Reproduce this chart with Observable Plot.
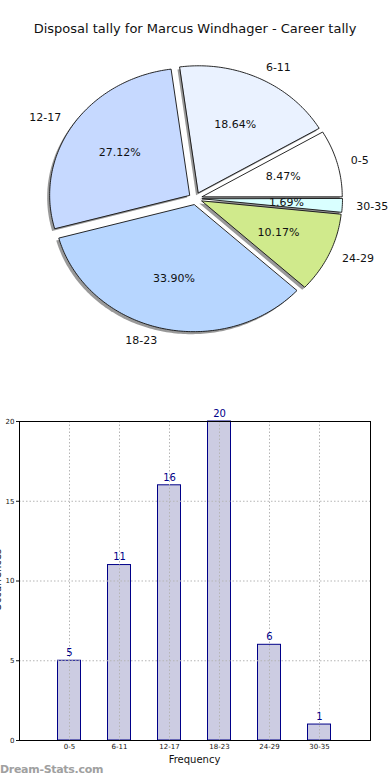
<!DOCTYPE html>
<html>
<head>
<meta charset="utf-8">
<script src="https://cdn.jsdelivr.net/npm/d3@7"></script>
<script src="https://cdn.jsdelivr.net/npm/@observablehq/plot@0.6"></script>
<style>
  html, body { margin: 0; padding: 0; background: #fff; }
  body { width: 390px; height: 780px; overflow: hidden; position: relative; font-family: "DejaVu Sans", sans-serif; }
  .abs { position: absolute; }
  #title { top: 21px; left: 0; width: 390px; text-align: center; font-size: 13px; color: #111; }
  #pie { top: 0; left: 0; }
  #bar { top: 400px; left: 0; }
  #xlabel { top: 754px; left: 0; width: 389px; text-align: center; font-size: 10px; line-height: 12px; color: #111; }
  #ylabel { top: 574px; left: -42px; width: 80px; text-align: center; font-size: 10px; line-height: 12px; color: #111; transform: rotate(-90deg); }
  #wm { top: 763px; left: 0px; font-size: 11px; font-weight: bold; color: #a0a0a0; letter-spacing: -0.3px; }
</style>
</head>
<body>
<div id="pie" class="abs"></div>
<div id="title" class="abs">Disposal tally for Marcus Windhager - Career tally</div>
<div id="bar" class="abs"></div>
<div id="xlabel" class="abs">Frequency</div>
<div id="ylabel" class="abs">Occurrences</div>
<div id="wm" class="abs">Dream-Stats.com</div>
<script>
// ---- data ----
const categories = ["0-5", "6-11", "12-17", "18-23", "24-29", "30-35"];
const counts = [5, 11, 16, 20, 6, 1];
const sliceColors = ["#ffffff", "#eaf2ff", "#c6d9ff", "#b7d6ff", "#d0ea8c", "#d9ffff"];
const yTicks = [0, 5, 10, 15, 20];

// ---- pie (matplotlib-like, counterclockwise from east, exploded) ----
const total = d3.sum(counts);
const explode = 0.05;
let cum = 0;
const slices = counts.map((c, i) => {
  const a0 = cum / total * 2 * Math.PI;
  cum += c;
  const a1 = cum / total * 2 * Math.PI;
  const mid = (a0 + a1) / 2;
  return {key: categories[i], color: sliceColors[i], a0, a1, mid,
          ox: explode * Math.cos(mid), oy: explode * Math.sin(mid),
          pct: (c / total * 100).toFixed(2) + "%"};
});
const piePts = [];
for (const s of slices) {
  piePts.push({key: s.key, color: s.color, x: s.ox, y: s.oy});
  const n = Math.max(2, Math.ceil((s.a1 - s.a0) / (Math.PI / 180)));
  for (let k = 0; k <= n; k++) {
    const a = s.a0 + (s.a1 - s.a0) * k / n;
    piePts.push({key: s.key, color: s.color, x: s.ox + Math.cos(a), y: s.oy + Math.sin(a)});
  }
}
const labels = slices.map(s => ({...s,
  lx: s.ox + 1.1 * Math.cos(s.mid), ly: s.oy + 1.1 * Math.sin(s.mid),
  px: s.ox + 0.6 * Math.cos(s.mid), py: s.oy + 0.6 * Math.sin(s.mid)}));

const cx = 195, cy = 198, rx = 140, ry = 127;
const pie = Plot.plot({
  width: 390, height: 370,
  margin: 0,
  x: {domain: [-1, 1], range: [cx - rx, cx + rx], axis: null},
  y: {domain: [-1, 1], range: [cy + ry, cy - ry], axis: null},
  color: {type: "identity"},
  style: {fontFamily: "DejaVu Sans, sans-serif", background: "transparent"},
  marks: [
    Plot.line(piePts, {x: "x", y: "y", z: "key", curve: "linear-closed", fill: "#777", fillOpacity: 0.75, stroke: "none", dx: -2.5, dy: 2.5}),
    Plot.line(piePts, {x: "x", y: "y", z: "key", curve: "linear-closed", fill: "color", stroke: "#111", strokeWidth: 0.9, strokeLinejoin: "round"}),
    Plot.text(labels, {x: "px", y: "py", text: "pct", fontSize: 11, fill: "#111"}),
    Plot.text(labels.filter(d => d.lx >= 0), {x: "lx", y: "ly", text: "key", textAnchor: "start", fontSize: 11, fill: "#111"}),
    Plot.text(labels.filter(d => d.lx < 0), {x: "lx", y: "ly", text: "key", textAnchor: "end", fontSize: 11, fill: "#111"})
  ]
});
document.getElementById("pie").appendChild(pie);

// ---- bar chart ----
const barData = categories.map((c, i) => ({i, cat: c, count: counts[i]}));
const idx = barData.map(d => d.i);
const halfW = 0.23;
const bar = Plot.plot({
  width: 390, height: 380,
  marginLeft: 19, marginRight: 20, marginTop: 21, marginBottom: 40,
  x: {domain: [-1, 6.02]},
  y: {domain: [0, 20]},
  style: {fontFamily: "DejaVu Sans, sans-serif", background: "transparent", color: "#111"},
  marks: [
    Plot.rectY(barData, {x1: d => d.i - halfW, x2: d => d.i + halfW, y1: 0, y2: "count", fill: "#ccccE2", stroke: "#000088", strokeWidth: 1}),
    Plot.ruleX(idx, {stroke: "#b5b5b5", strokeDasharray: "1.5,2", strokeWidth: 1}),
    Plot.ruleY(yTicks.slice(1, -1), {stroke: "#b5b5b5", strokeDasharray: "1.5,2", strokeWidth: 1}),
    Plot.text(barData, {x: "i", y: "count", text: d => String(d.count), dy: -8, fontSize: 10, fill: "#000088"}),
    Plot.frame({stroke: "#000", strokeWidth: 1}),
    Plot.axisX(idx, {tickFormat: i => categories[i], tickSize: 0, tickPadding: 4, fontSize: 7, label: null}),
    Plot.axisY(yTicks, {tickSize: 3, tickPadding: 2, fontSize: 7, label: null})
  ]
});
document.getElementById("bar").appendChild(bar);
</script>
</body>
</html>
